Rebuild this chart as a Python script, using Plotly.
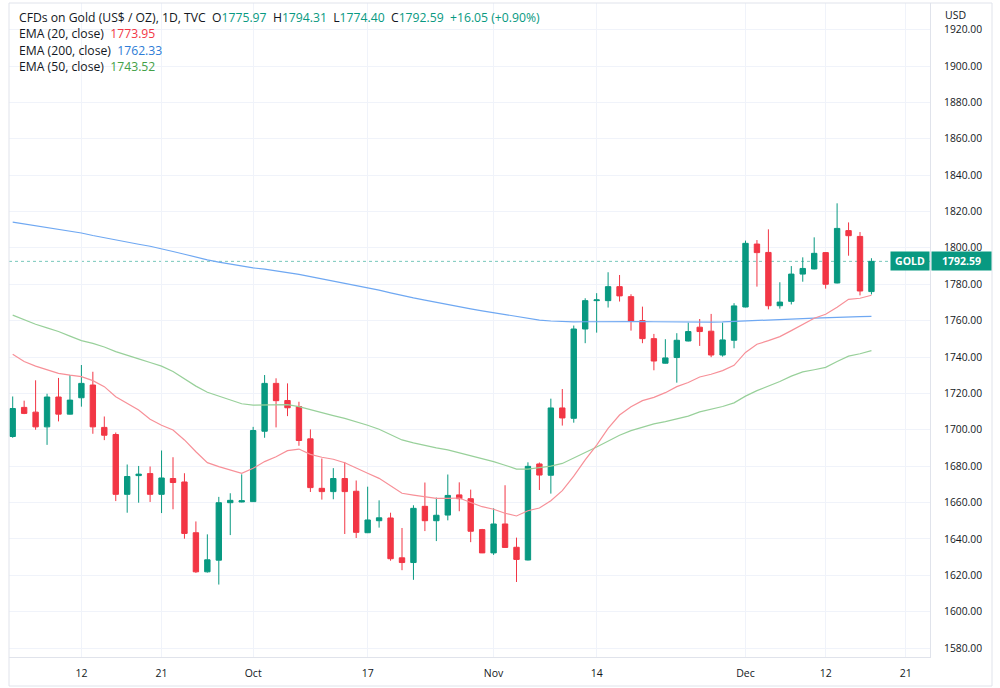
import pandas as pd
import plotly.graph_objects as go

# ---------------- data ----------------
all_days = pd.bdate_range("2022-09-02", "2022-12-30")
n_bars = 76
dates = list(all_days[:n_bars])

open_ = [1696.3, 1712.3, 1709.7, 1701.6, 1718.0, 1708.6, 1717.6, 1724.6, 1701.3, 1697.4,
         1664.5, 1674.8, 1675.9, 1664.5, 1673.2, 1671.3, 1643.4, 1621.9, 1628.3, 1659.9,
         1660.3, 1660.5, 1699.2, 1725.5, 1716.1, 1712.8, 1695.0, 1667.8, 1666.0, 1673.2,
         1666.2, 1643.4, 1650.0, 1651.5, 1629.6, 1627.0, 1657.9, 1650.0, 1653.1, 1664.2,
         1662.1, 1645.1, 1632.3, 1648.2, 1635.4, 1628.4, 1681.2, 1675.0, 1712.0, 1706.3,
         1755.4, 1771.0, 1771.0, 1778.7, 1773.2, 1760.0, 1750.1, 1736.6, 1739.7, 1748.8,
         1756.4, 1754.2, 1741.1, 1749.2, 1767.5, 1802.1, 1797.5, 1768.2, 1770.6, 1785.6,
         1788.4, 1797.4, 1780.7, 1809.5, 1806.3, 1775.97]
high = [1718.3, 1716.0, 1727.2, 1719.8, 1728.5, 1730.1, 1735.6, 1731.9, 1707.3, 1698.5,
        1680.9, 1680.1, 1679.8, 1688.6, 1684.9, 1676.1, 1649.6, 1642.5, 1663.1, 1665.1,
        1675.5, 1701.6, 1730.1, 1728.3, 1725.5, 1715.4, 1700.2, 1684.2, 1678.9, 1682.3,
        1672.1, 1668.7, 1661.2, 1654.4, 1646.0, 1658.5, 1671.0, 1662.7, 1675.4, 1671.1,
        1667.1, 1645.5, 1656.8, 1669.5, 1640.7, 1682.1, 1682.0, 1717.1, 1722.4, 1757.3,
        1772.3, 1775.1, 1786.6, 1785.1, 1774.5, 1767.7, 1752.7, 1749.8, 1753.1, 1758.9,
        1760.9, 1763.7, 1758.9, 1769.6, 1804.0, 1804.3, 1810.2, 1781.1, 1790.0, 1794.8,
        1805.8, 1797.6, 1824.5, 1814.0, 1808.7, 1794.31]
low = [1695.6, 1708.6, 1700.0, 1691.7, 1704.6, 1708.4, 1712.7, 1697.8, 1694.3, 1660.8,
       1654.4, 1659.9, 1660.3, 1654.2, 1656.3, 1640.1, 1621.3, 1621.5, 1614.9, 1642.1,
       1660.1, 1660.3, 1695.6, 1701.3, 1707.5, 1691.2, 1665.8, 1661.6, 1661.8, 1642.7,
       1640.5, 1643.2, 1646.2, 1628.0, 1622.8, 1617.5, 1644.3, 1638.8, 1650.2, 1655.2,
       1638.2, 1632.2, 1631.2, 1635.0, 1616.3, 1628.2, 1666.9, 1664.9, 1702.3, 1703.9,
       1747.6, 1753.4, 1767.2, 1770.5, 1754.5, 1747.6, 1732.7, 1736.4, 1725.9, 1748.6,
       1746.1, 1739.9, 1740.2, 1744.8, 1767.3, 1778.7, 1766.2, 1766.6, 1768.9, 1781.4,
       1788.2, 1777.6, 1780.5, 1795.7, 1773.9, 1774.40]
close = [1711.7, 1709.0, 1701.6, 1718.0, 1708.6, 1716.3, 1725.5, 1701.6, 1697.0, 1664.5,
         1674.3, 1675.6, 1664.5, 1673.5, 1671.0, 1643.0, 1621.9, 1628.5, 1659.9, 1661.2,
         1661.0, 1699.6, 1725.5, 1716.0, 1712.1, 1694.1, 1668.2, 1666.0, 1673.2, 1666.0,
         1643.6, 1650.4, 1651.6, 1629.1, 1627.0, 1656.8, 1650.0, 1653.0, 1663.9, 1662.1,
         1644.2, 1632.3, 1648.2, 1635.3, 1628.7, 1679.9, 1675.1, 1712.0, 1706.5, 1755.4,
         1771.0, 1771.4, 1778.7, 1773.6, 1759.8, 1750.1, 1737.8, 1739.5, 1749.2, 1754.0,
         1754.0, 1741.1, 1749.4, 1768.1, 1802.5, 1797.4, 1768.2, 1770.2, 1785.6, 1788.7,
         1797.0, 1780.0, 1810.7, 1806.7, 1776.3, 1792.59]

ema20 = [1741.5, 1737.5, 1735.0, 1733.0, 1731.0, 1730.0, 1729.2, 1727.0, 1723.7, 1718.2,
         1714.5, 1710.9, 1705.8, 1702.5, 1699.9, 1694.4, 1687.9, 1681.9, 1679.7, 1677.9,
         1676.1, 1678.8, 1682.5, 1685.2, 1688.5, 1689.4, 1686.5, 1684.9, 1683.8, 1681.9,
         1678.8, 1676.1, 1673.3, 1669.1, 1665.1, 1664.1, 1663.2, 1662.3, 1662.3, 1662.5,
         1660.0, 1657.7, 1656.3, 1654.1, 1652.6, 1655.5, 1657.0, 1661.0, 1666.5, 1674.5,
         1683.4, 1691.6, 1700.8, 1708.1, 1712.7, 1716.0, 1717.8, 1720.4, 1723.7, 1726.0,
         1729.0, 1730.5, 1732.5, 1735.4, 1742.5, 1747.0, 1749.0, 1751.2, 1754.5, 1758.0,
         1761.3, 1763.5, 1767.3, 1771.7, 1772.3, 1773.95]
ema50 = [1763.0, 1760.5, 1758.0, 1756.0, 1754.0, 1751.5, 1749.0, 1747.5, 1745.5, 1743.0,
         1740.8, 1739.0, 1737.0, 1735.0, 1732.0, 1728.0, 1724.0, 1720.6, 1718.5, 1716.0,
         1714.3, 1713.5, 1713.7, 1714.0, 1713.8, 1712.7, 1711.0, 1709.1, 1707.8, 1706.3,
         1704.5, 1702.5, 1700.3, 1697.5, 1694.4, 1692.8, 1691.2, 1690.0, 1688.9, 1687.4,
         1685.5, 1684.0, 1682.5, 1680.5, 1678.4, 1678.4, 1679.0, 1680.0, 1681.5, 1684.3,
         1687.5, 1690.5, 1693.8, 1697.0, 1699.5, 1701.5, 1703.2, 1704.5, 1705.8, 1707.5,
         1709.8, 1711.2, 1712.8, 1714.8, 1718.5, 1721.5, 1724.0, 1726.5, 1729.5, 1731.8,
         1733.0, 1734.3, 1737.5, 1740.5, 1741.8, 1743.52]
ema200 = [1814.2, 1813.2, 1812.2, 1811.3, 1810.3, 1809.2, 1808.2, 1806.8, 1805.5, 1804.2,
          1803.0, 1802.0, 1800.9, 1799.6, 1798.0, 1796.5, 1794.9, 1793.4, 1792.2, 1791.0,
          1790.0, 1789.0, 1788.3, 1787.4, 1786.5, 1785.4, 1784.2, 1783.0, 1781.8, 1780.6,
          1779.4, 1778.2, 1776.8, 1775.3, 1773.8, 1772.5, 1771.3, 1770.0, 1768.8, 1767.6,
          1766.5, 1765.4, 1764.4, 1763.2, 1762.0, 1761.0, 1760.3, 1759.8, 1759.4, 1759.3,
          1759.4, 1759.5, 1759.6, 1759.6, 1759.6, 1759.5, 1759.4, 1759.3, 1759.3, 1759.3,
          1759.3, 1759.2, 1759.3, 1759.5, 1759.9, 1760.2, 1760.4, 1760.6, 1760.8, 1761.1,
          1761.4, 1761.5, 1761.8, 1762.1, 1762.2, 1762.33]

tick_dates = ["2022-09-12", "2022-09-21", "2022-10-03", "2022-10-17", "2022-11-01",
              "2022-11-14", "2022-12-01", "2022-12-12", "2022-12-21"]
tick_labels = ["12", "21", "Oct", "17", "Nov", "14", "Dec", "12", "21"]
price_ticks = list(range(1580, 1921, 20))

# ---------------- figure ----------------
UP = "#089981"
DOWN = "#F23645"
TXT = "#131722"
GRID = "#f0f3fa"
BORDER = "#e0e3eb"

x = list(range(n_bars))
tickvals = [all_days.get_loc(pd.Timestamp(d)) for d in tick_dates]

fig = go.Figure()
fig.add_trace(go.Scatter(x=x, y=ema200, mode="lines",
                         line=dict(color="#6FA8F2", width=1.2), hoverinfo="skip"))
fig.add_trace(go.Scatter(x=x, y=ema50, mode="lines",
                         line=dict(color="#98D09A", width=1.2), hoverinfo="skip"))
fig.add_trace(go.Scatter(x=x, y=ema20, mode="lines",
                         line=dict(color="#F79098", width=1.2), hoverinfo="skip"))
fig.add_trace(go.Candlestick(
    x=x, open=open_, high=high, low=low, close=close,
    increasing=dict(line=dict(color=UP, width=1), fillcolor=UP),
    decreasing=dict(line=dict(color=DOWN, width=1), fillcolor=DOWN),
    whiskerwidth=0,
))

last_close = close[-1]
fig.add_shape(type="line", xref="paper", x0=0, x1=1, yref="y",
              y0=last_close, y1=last_close,
              line=dict(color="rgba(8,153,129,0.55)", width=1, dash="dot"), layer="below")

W, H = 1000, 688
ml, mr, mt, mb = 9, 70, 3, 31
pw, ph = W - ml - mr, H - mt - mb

def px_x(px):
    return (px - ml) / pw

def px_y(py):
    return 1 - (py - mt) / ph

# outer frame
fig.add_shape(type="rect", xref="paper", yref="paper",
              x0=0, x1=px_x(992), y0=px_y(686), y1=1,
              line=dict(color=BORDER, width=1), fillcolor="rgba(0,0,0,0)")

FONT = "Open Sans, Roboto, sans-serif"
legend_lines = [
    ("CFDs on Gold (US$ / OZ), 1D, TVC\u00a0\u00a0"
     f"O<span style='color:{UP}'>1775.97</span>\u00a0\u00a0"
     f"H<span style='color:{UP}'>1794.31</span>\u00a0\u00a0"
     f"L<span style='color:{UP}'>1774.40</span>\u00a0\u00a0"
     f"C<span style='color:{UP}'>1792.59</span>\u00a0\u00a0"
     f"<span style='color:{UP}'>+16.05 (+0.90%)</span>", 17),
    (f"EMA (20, close)\u00a0\u00a0<span style='color:{DOWN}'>1773.95</span>", 33.5),
    (f"EMA (200, close)\u00a0\u00a0<span style='color:#2E7CD6'>1762.33</span>", 50),
    (f"EMA (50, close)\u00a0\u00a0<span style='color:#43A047'>1743.52</span>", 66.5),
]
for txt, py in legend_lines:
    fig.add_annotation(text=txt, xref="paper", yref="paper", x=px_x(17), y=px_y(py),
                       xanchor="left", yanchor="middle", showarrow=False,
                       font=dict(family=FONT, size=12.2, color=TXT))

fig.add_annotation(text="USD", xref="paper", yref="paper", x=px_x(943), y=px_y(15),
                   xanchor="left", yanchor="middle", showarrow=False,
                   font=dict(family=FONT, size=10.5, color=TXT))

# last price labels
fig.add_annotation(text="<b>GOLD</b>", xref="paper", yref="y", x=1, y=last_close,
                   xanchor="right", yanchor="middle", showarrow=False,
                   bgcolor=UP, borderpad=2, width=34,
                   font=dict(family=FONT, size=10.5, color="white"))
fig.add_annotation(text="<b>1792.59</b>", xref="paper", yref="y", x=1.001, y=last_close,
                   xanchor="left", yanchor="middle", showarrow=False,
                   bgcolor=UP, borderpad=2, width=55,
                   font=dict(family=FONT, size=10.5, color="white"))

x_left = (ml - 12.7) / 11.45
x_right = (ml + pw - 12.7) / 11.45
y_bottom = 1900 - (mt + ph - 66) * 0.5498
y_top = 1900 + (66 - mt) * 0.5498

fig.update_layout(
    width=W, height=H,
    margin=dict(l=ml, r=mr, t=mt, b=mb),
    paper_bgcolor="white", plot_bgcolor="white",
    showlegend=False,
    font=dict(family=FONT, size=11, color=TXT),
    boxgap=0.33,
    xaxis=dict(range=[x_left, x_right], tickvals=tickvals, ticktext=tick_labels,
               showgrid=True, gridcolor=GRID, gridwidth=1, zeroline=False,
               rangeslider=dict(visible=False), showline=True, linecolor=BORDER,
               ticks="", ticklabelstandoff=6,
               tickfont=dict(family=FONT, size=10.5, color=TXT)),
    yaxis=dict(range=[y_bottom, y_top], side="right", tickvals=price_ticks,
               tickformat=".2f", showgrid=True, gridcolor=GRID, gridwidth=1,
               zeroline=False, showline=True, linecolor=BORDER, mirror=False,
               ticks="", ticklabelstandoff=11,
               tickfont=dict(family=FONT, size=10.3, color=TXT)),
)

fig.write_html("out.html")
